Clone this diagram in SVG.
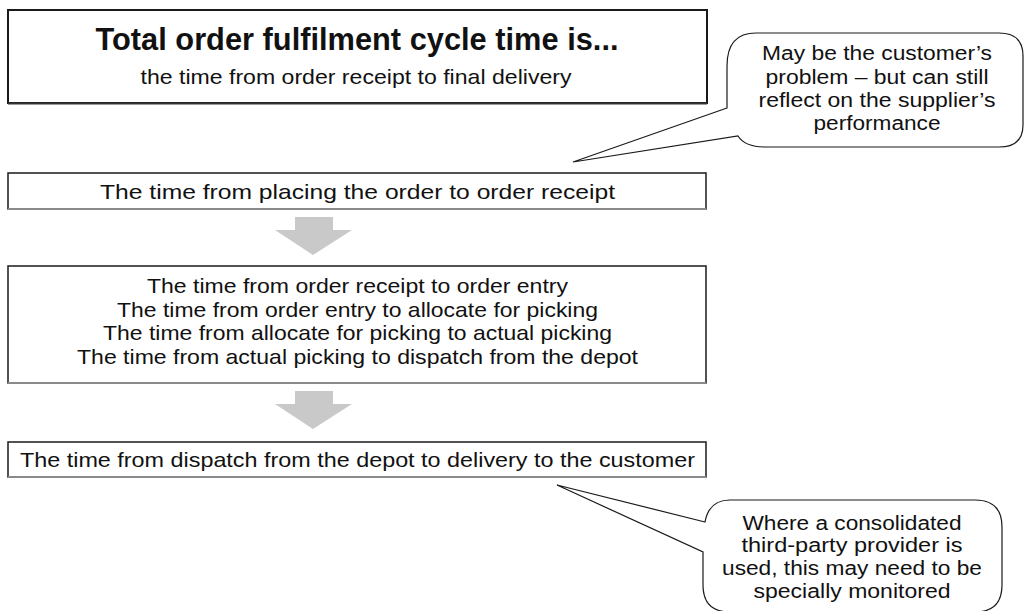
<svg xmlns="http://www.w3.org/2000/svg" width="1026" height="611" viewBox="0 0 1026 611">
  <style>
    .box { fill: #ffffff; stroke: #1a1a1a; stroke-width: 1.5; }
    .main { fill: #ffffff; stroke: #1a1a1a; stroke-width: 2; }
    .base { stroke: #8a8a8a; stroke-width: 2; }
    .bubble { fill: #ffffff; stroke: #1a1a1a; stroke-width: 1.2; stroke-linejoin: miter; }
    .arrow { fill: #c9c9c9; stroke: none; }
    text { font-family: "Liberation Sans", Arial, Helvetica, sans-serif; fill: #111111; text-anchor: middle; }
    .t { font-size: 21px; }
    .c { font-size: 20px; }
    .title { font-size: 32px; font-weight: bold; }
  </style>
  <rect width="1026" height="611" fill="#ffffff"/>

  <g id="connectors">
    <path class="arrow" d="M295,217 H333 V230 H352 L313,255 L275,230 H295 Z"/>
    <path class="arrow" d="M295,391 H333 V404 H352 L313,429 L275,404 H295 Z"/>
  </g>

  <g id="total-cycle">
    <rect class="main" x="8" y="10" width="699" height="93"/>
    <line class="base" x1="8" y1="103.5" x2="707" y2="103.5" style="stroke:#333333"/>
    <text class="title" x="357" y="50" textLength="523" lengthAdjust="spacingAndGlyphs">Total order fulfilment cycle time is...</text>
    <text class="t" x="356" y="83.5" textLength="431" lengthAdjust="spacingAndGlyphs">the time from order receipt to final delivery</text>
  </g>

  <g id="placing-to-receipt">
    <rect class="box" x="8" y="173" width="698" height="36"/>
    <line class="base" x1="8" y1="209" x2="706" y2="209"/>
    <text class="t" x="357.5" y="199" textLength="515" lengthAdjust="spacingAndGlyphs">The time from placing the order to order receipt</text>
  </g>

  <g id="internal-steps">
    <rect class="box" x="8" y="266" width="698" height="117"/>
    <line class="base" x1="8" y1="383" x2="706" y2="383"/>
    <text class="t" x="357.5" y="293" textLength="421" lengthAdjust="spacingAndGlyphs">The time from order receipt to order entry</text>
    <text class="t" x="357.5" y="317" textLength="481" lengthAdjust="spacingAndGlyphs">The time from order entry to allocate for picking</text>
    <text class="t" x="357.5" y="340" textLength="509" lengthAdjust="spacingAndGlyphs">The time from allocate for picking to actual picking</text>
    <text class="t" x="357.5" y="364" textLength="561" lengthAdjust="spacingAndGlyphs">The time from actual picking to dispatch from the depot</text>
  </g>

  <g id="dispatch-to-delivery">
    <rect class="box" x="8" y="442" width="698" height="35"/>
    <line class="base" x1="8" y1="477" x2="706" y2="477"/>
    <text class="t" x="357.5" y="467" textLength="675" lengthAdjust="spacingAndGlyphs">The time from dispatch from the depot to delivery to the customer</text>
  </g>

  <g id="callout-customer">
    <path class="bubble" d="M727,108 L573,162 L738,136 Q745,147 765,147 L999,147 Q1023,147 1023,125 L1023,56 Q1023,33 999,33 L756,33 Q727,33 727,66 Z"/>
    <text class="c" x="877" y="60" textLength="230" lengthAdjust="spacingAndGlyphs">May be the customer’s</text>
    <text class="c" x="877" y="83.5" textLength="223" lengthAdjust="spacingAndGlyphs">problem – but can still</text>
    <text class="c" x="877" y="107" textLength="237" lengthAdjust="spacingAndGlyphs">reflect on the supplier’s</text>
    <text class="c" x="877" y="130" textLength="127" lengthAdjust="spacingAndGlyphs">performance</text>
  </g>

  <g id="callout-third-party">
    <path class="bubble" d="M705,522 L557,485 L703,552 L703,585 Q703,612 730,612 L975,612 Q1002,612 1002,585 L1002,527 Q1002,500 975,500 L730,500 Q709,500 705,522 Z"/>
    <text class="c" x="852" y="530" textLength="219" lengthAdjust="spacingAndGlyphs">Where a consolidated</text>
    <text class="c" x="852" y="552" textLength="221" lengthAdjust="spacingAndGlyphs">third-party provider is</text>
    <text class="c" x="852" y="575" textLength="260" lengthAdjust="spacingAndGlyphs">used, this may need to be</text>
    <text class="c" x="852" y="598" textLength="197" lengthAdjust="spacingAndGlyphs">specially monitored</text>
  </g>
</svg>
